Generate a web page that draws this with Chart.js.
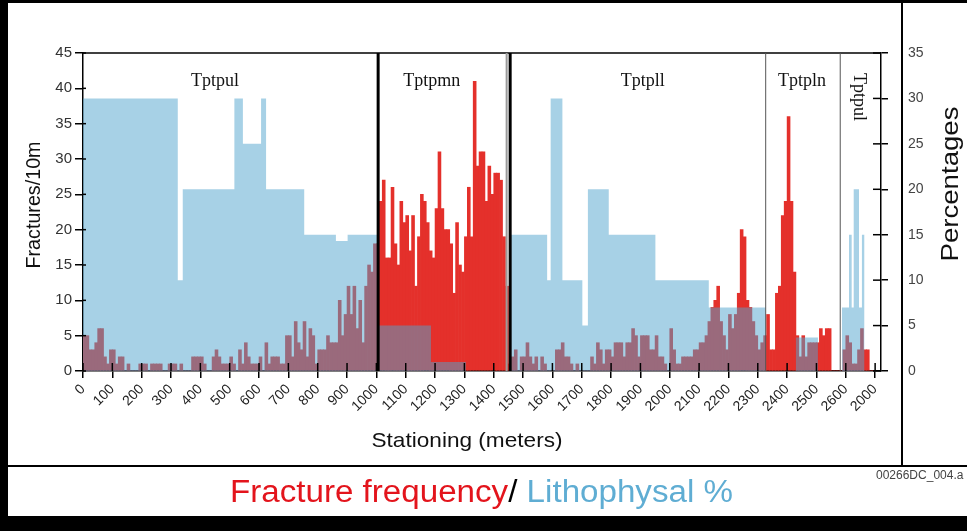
<!DOCTYPE html>
<html lang="en">
<head>
<meta charset="UTF-8" />
<title>Fracture frequency / Lithophysal %</title>
<script src="https://cdn.jsdelivr.net/npm/chart.js@4.4.0/dist/chart.umd.min.js"></script>
<style>
  body { margin: 0; padding: 0; background: #fff; }
  .sheet { position: relative; width: 967px; height: 531px; overflow: hidden; background: #fff; }
  .sheet canvas { position: absolute; left: 0; top: 0; }
  .rule { position: absolute; background: #000; }
</style>
</head>
<body>
<div class="sheet">
  <canvas id="chart" width="967" height="531"></canvas>
  <div class="rule" style="left:0;top:0;width:8px;height:531px"></div>
  <div class="rule" style="left:0;top:0;width:967px;height:3px"></div>
  <div class="rule" style="left:0;top:516px;width:967px;height:15px"></div>
  <div class="rule" style="left:901px;top:0;width:2px;height:466px"></div>
  <div class="rule" style="left:8px;top:465px;width:959px;height:2px"></div>
</div>
<script>
// station tick labels, every 100 m (last one printed as on the sheet)
const stationTicks = ['0', '100', '200', '300', '400', '500', '600', '700', '800', '900',
  '1000', '1100', '1200', '1300', '1400', '1500', '1600', '1700', '1800', '1900',
  '2000', '2100', '2200', '2300', '2400', '2500', '2600', '2000'];

// fractures per 10 m interval, from station 0
const fractures = [
  5, 5, 3, 3, 4, 6, 6, 2, 1, 3, 3, 1, 2, 2, 0, 1,
  0, 0, 0, 1, 1, 1, 0, 1, 1, 1, 1, 0, 0, 1, 1, 1,
  0, 1, 0, 0, 0, 2, 2, 2, 2, 1, 0, 0, 2, 3, 2, 1, 1,
  1, 2, 1, 0, 3, 1, 4, 2, 1, 1, 1, 2, 0, 4, 1, 2, 2, 2, 1, 1,
  5, 5, 2, 7, 4, 3, 7, 2, 6, 5, 1, 3, 3, 3, 5, 4, 4, 4, 10, 5,
  8, 12, 8, 12, 6, 10, 4, 12, 15, 14, 18,
  18, 24, 27, 16, 16, 26, 18, 15, 24, 21, 22, 17, 22, 12, 19, 25, 24, 21, 17, 16,
  23, 31, 23, 20, 20, 18, 11, 21, 15, 14, 19, 26, 19, 41, 29, 31, 31, 24, 29, 25,
  28, 28, 27, 19, 12,
  1, 2, 3, 0, 2, 2, 4, 2, 1, 2, 0, 2, 1, 0, 0, 0, 3, 3, 4, 2,
  2, 1, 0, 1, 0, 0, 0, 0, 2, 1, 4, 3, 1, 3, 3, 2, 4, 4, 4, 2,
  4, 4, 6, 5, 2,
  5, 5, 5, 3, 3, 5, 2, 2, 1, 0, 6, 3, 1, 1, 2, 2, 2, 2, 3, 3,
  4, 4, 5, 7, 9, 10, 12, 7, 5, 3, 8, 6, 8, 11, 20, 19, 10, 9, 7, 5,
  3, 4, 5,
  8, 3, 3, 11, 12, 22, 24, 36, 24, 14, 5, 2, 5, 2, 4, 4, 4, 4, 6, 5,
  6, 6, 0, 0, 0, 0, 3, 5, 4, 1, 1, 3, 6, 3, 3, 0, 0
];

// lithophysal %, stepped: each value holds from its station to the next one
const lithoFrom = [0, 323, 340, 516, 545, 607, 624, 754, 862, 902, 1006, 1186, 1305,
  1456, 1582, 1594, 1634, 1702, 1721, 1792, 1951, 2133, 2327, 2430, 2505,
  2587, 2611, 2620, 2627, 2645, 2655, 2663, 2720];
const lithoPct = [30, 10, 20, 30, 25, 30, 20, 15, 14.3, 15, 5, 1, 0,
  15, 10, 30, 10, 5, 20, 15, 10, 7, 0, 3.7, 0,
  7, 15, 7, 20, 7, 15, 0, 0];

// unit contacts (m) and unit names
const contacts = [1006, 1444, 1456, 2327, 2581];
const units = ['Tptpul', 'Tptpmn', 'Tptpll', 'Tptpln', 'Tptpul'];
const unitAt = [450, 1189, 1908, 2451, 2655];

const sans = '"Liberation Sans", Arial, sans-serif';
const serif = '"Liberation Serif", "Times New Roman", serif';

function drawFitted(ctx, text, cx, cy, size, family, color, length, angle) {
  ctx.save();
  ctx.translate(cx, cy);
  ctx.rotate(angle || 0);
  ctx.font = size + 'px ' + family;
  const w = ctx.measureText(text).width;
  if (length) ctx.scale(length / w, 1);
  ctx.fillStyle = color;
  ctx.textAlign = 'center';
  ctx.textBaseline = 'middle';
  ctx.fillText(text, 0, 0);
  ctx.restore();
}

function seg(ctx, x1, y1, x2, y2) {
  ctx.beginPath();
  ctx.moveTo(x1, y1);
  ctx.lineTo(x2, y2);
  ctx.stroke();
}

const sheetPlugin = {
  id: 'sheet',
  afterDatasetsDraw(chart) {
    const { ctx, chartArea: a, scales: { x, y, y2 } } = chart;
    ctx.save();
    ctx.strokeStyle = '#000';
    ctx.lineWidth = 1.5;
    seg(ctx, a.left, a.top, a.right, a.top);

    // contacts between units
    const widths = [3, 2, 3, 1, 1];
    const colors = ['#000', '#9a9a9a', '#000', '#555', '#555'];
    contacts.forEach((m, i) => {
      const px = x.getPixelForValue(m);
      ctx.strokeStyle = colors[i];
      ctx.lineWidth = widths[i];
      seg(ctx, px, a.top, px, a.bottom);
    });

    // tick marks reaching into the plot
    ctx.strokeStyle = '#000';
    ctx.lineWidth = 1.5;
    x.ticks.forEach((t, i) => {
      const px = x.getPixelForTick(i);
      seg(ctx, px, a.bottom, px, a.bottom - 8);
    });
    y.ticks.forEach((t, i) => {
      const py = y.getPixelForTick(i);
      seg(ctx, a.left, py, a.left + 3, py);
    });
    y2.ticks.forEach((t, i) => {
      const py = y2.getPixelForTick(i);
      seg(ctx, a.right - 8, py, a.right, py);
    });

    // unit names
    units.forEach((name, i) => {
      const px = x.getPixelForValue(unitAt[i]);
      if (i === units.length - 1) {
        drawFitted(ctx, name, px - 3, a.top + 44, 18, serif, '#111', 0, Math.PI / 2);
      } else {
        drawFitted(ctx, name, px, a.top + 28, 18, serif, '#111');
      }
    });
    ctx.restore();
  },
  afterDraw(chart) {
    const { ctx } = chart;
    drawFitted(ctx, 'Fractures/10m', 34, 205, 20, sans, '#111', 127, -Math.PI / 2);
    drawFitted(ctx, 'Stationing (meters)', 467, 441, 21, sans, '#111', 191);
    drawFitted(ctx, 'Percentages', 951, 184, 24, sans, '#111', 155, -Math.PI / 2);

    // caption: two coloured names split by a slash
    const parts = [['Fracture frequency', '#e3141c'], ['/', '#000'], [' Lithophysal %', '#5fadd3']];
    ctx.save();
    ctx.font = '31px ' + sans;
    const total = parts.reduce((s, p) => s + ctx.measureText(p[0]).width, 0);
    ctx.translate(230, 493);
    ctx.scale(503 / total, 1);
    ctx.textBaseline = 'middle';
    let cx = 0;
    parts.forEach(([txt, col]) => {
      ctx.fillStyle = col;
      ctx.fillText(txt, cx, 0);
      cx += ctx.measureText(txt).width;
    });
    ctx.restore();

    ctx.save();
    ctx.font = '12px ' + sans;
    ctx.fillStyle = '#444';
    ctx.textBaseline = 'middle';
    ctx.fillText('00266DC_004.a', 876, 476);
    ctx.restore();
  }
};

const fracturePoints = fractures.map((v, i) => ({ x: i * 10 + 5, y: v }));
const lithoPoints = lithoFrom.map((m, i) => ({ x: m, y: lithoPct[i] }));

new Chart(document.getElementById('chart'), {
  type: 'bar',
  data: {
    datasets: [
      {
        type: 'line',
        label: 'Lithophysal %',
        data: lithoPoints,
        yAxisID: 'y2',
        stepped: true,
        fill: 'origin',
        backgroundColor: 'rgba(80,164,206,0.5)',
        borderColor: 'transparent',
        borderWidth: 0,
        pointRadius: 0,
        order: 0
      },
      {
        type: 'bar',
        label: 'Fracture frequency',
        data: fracturePoints,
        yAxisID: 'y',
        backgroundColor: '#e4302b',
        borderWidth: 0,
        barPercentage: 1,
        categoryPercentage: 1,
        order: 1
      }
    ]
  },
  options: {
    responsive: false,
    animation: false,
    layout: { padding: { top: 53, left: 0, right: 0, bottom: 0 } },
    plugins: { legend: { display: false }, tooltip: { enabled: false } },
    scales: {
      x: {
        type: 'linear',
        min: 0,
        max: 2720,
        offset: false,
        grid: { offset: false, drawOnChartArea: false, color: '#000', lineWidth: 1.5, tickLength: 7 },
        border: { color: '#000', width: 1.5 },
        ticks: {
          stepSize: 100,
          includeBounds: false,
          autoSkip: false,
          maxRotation: 45,
          minRotation: 45,
          padding: 3,
          color: '#222',
          font: { family: sans, size: 14 },
          callback: (v) => stationTicks[Math.round(v / 100)]
        },
        afterFit: (s) => { s.height = 160; }
      },
      y: {
        position: 'left',
        min: 0,
        max: 45,
        grid: { drawOnChartArea: false, color: '#000', lineWidth: 1.5, tickLength: 8 },
        border: { color: '#000', width: 1.5 },
        ticks: { stepSize: 5, padding: 3, color: '#333', font: { family: sans, size: 15 } },
        afterFit: (s) => { s.width = 83; }
      },
      y2: {
        position: 'right',
        min: 0,
        max: 35,
        grid: { drawOnChartArea: false, color: '#000', lineWidth: 1.5, tickLength: 7 },
        border: { color: '#000', width: 1.5 },
        ticks: { stepSize: 5, padding: 20, color: '#444', font: { family: sans, size: 14 } },
        afterFit: (s) => { s.width = 86; }
      }
    }
  },
  plugins: [sheetPlugin]
});
</script>
</body>
</html>
